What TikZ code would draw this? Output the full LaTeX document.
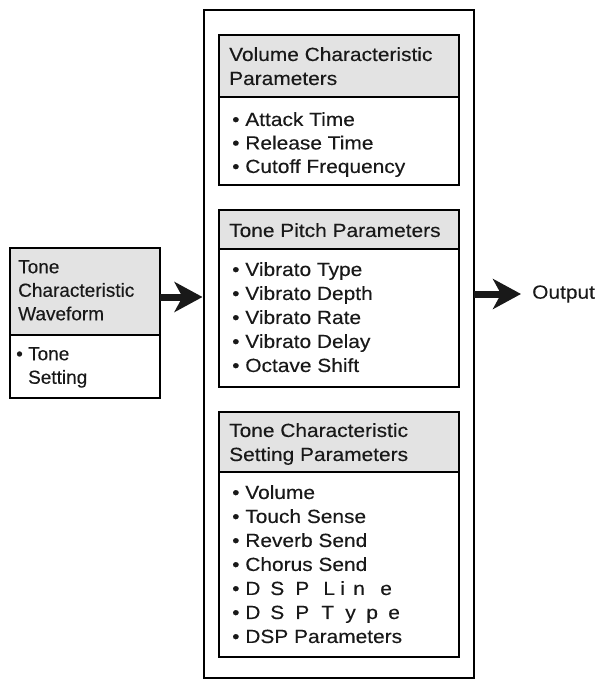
\documentclass[tikz,border=0pt]{standalone}
\usepackage{fontspec}
\setmainfont{Liberation Sans}[FakeStretch=1.1,FakeBold=0.25]
\newfontfamily\plainfont{Liberation Sans}[FakeBold=0.25]
\usetikzlibrary{arrows.meta,calc}
\begin{document}
\begin{tikzpicture}[x=1pt,y=-1pt,
  frame/.style={draw, line width=2.6pt, inner sep=0pt, outer sep=0pt, anchor=north west},
  hdr/.style={fill=gray!22, draw, line width=1.2pt, inner sep=0pt, outer sep=0pt, anchor=north west},
  txt/.style={inner sep=0pt, anchor=north west, align=left, text=black!90, font=\fontsize{19}{24}\selectfont},
  txtb/.style={txt, font=\plainfont\fontsize{19}{23.5}\selectfont},
  txtc/.style={txt, font=\fontsize{19}{23.5}\selectfont},
  bigarrow/.style={line width=7pt, black!90, -{Stealth[length=28pt,width=30pt,inset=8pt]}}]
\useasboundingbox (0,0) rectangle (598,682);

% outer box
\node[frame, minimum width=270pt, minimum height=668pt] (outer) at (204,10) {};

% left box
\node[hdr, minimum width=150pt, minimum height=87pt] (lh) at (10,248) {};
\node[frame, minimum width=150pt, minimum height=150pt] (lb) at (10,248) {};
\node[txtb] (lt) at (18,260) {Tone\\Characteristic\\Waveform};
\node[txtb] (ll) at (16,347) {\textbullet\ Tone\\\phantom{\textbullet\ }Setting};

% box 1
\node[hdr, minimum width=240pt, minimum height=62pt] (h1) at (219,35) {};
\node[frame, minimum width=240pt, minimum height=150pt] (b1) at (219,35) {};
\node[txt] (t1) at (229,47) {Volume Characteristic\\Parameters};
\node[txtc] (l1) at (232,112) {\textbullet\ Attack Time\\\textbullet\ Release Time\\\textbullet\ Cutoff Frequency};

% box 2
\node[hdr, minimum width=240pt, minimum height=39pt] (h2) at (219,210) {};
\node[frame, minimum width=240pt, minimum height=177pt] (b2) at (219,210) {};
\node[txt] (t2) at (229,223) {Tone Pitch Parameters};
\node[txt] (l2) at (232,262) {\textbullet\ Vibrato Type\\\textbullet\ Vibrato Depth\\\textbullet\ Vibrato Rate\\\textbullet\ Vibrato Delay\\\textbullet\ Octave Shift};

% box 3
\node[hdr, minimum width=240pt, minimum height=60pt] (h3) at (219,412) {};
\node[frame, minimum width=240pt, minimum height=245pt] (b3) at (219,412) {};
\node[txt] (t3) at (229,423) {Tone Characteristic\\Setting Parameters};
\node[txt] (l3) at (232,485) {\textbullet\ Volume\\\textbullet\ Touch Sense\\\textbullet\ Reverb Send\\\textbullet\ Chorus Send\\
\textbullet\ \makebox[25pt][l]{D}\makebox[25pt][l]{S}\makebox[28pt][l]{P}\makebox[17pt][l]{L}\makebox[13pt][l]{i}\makebox[27pt][l]{n}e\\
\textbullet\ \makebox[25pt][l]{D}\makebox[25pt][l]{S}\makebox[26pt][l]{P}\makebox[24pt][l]{T}\makebox[21pt][l]{y}\makebox[22pt][l]{p}e\\
\textbullet\ DSP Parameters};

% output
\node[txt, anchor=west] (out) at (532,294) {Output};

% arrows
\coordinate (ay) at (0,297);
\draw[bigarrow, shorten >=1.5pt] (lb.east |- ay) -- (outer.west |- ay);
\draw[bigarrow] (outer.east |- out) -- ([xshift=-11pt]out.west);
\end{tikzpicture}
\end{document}
